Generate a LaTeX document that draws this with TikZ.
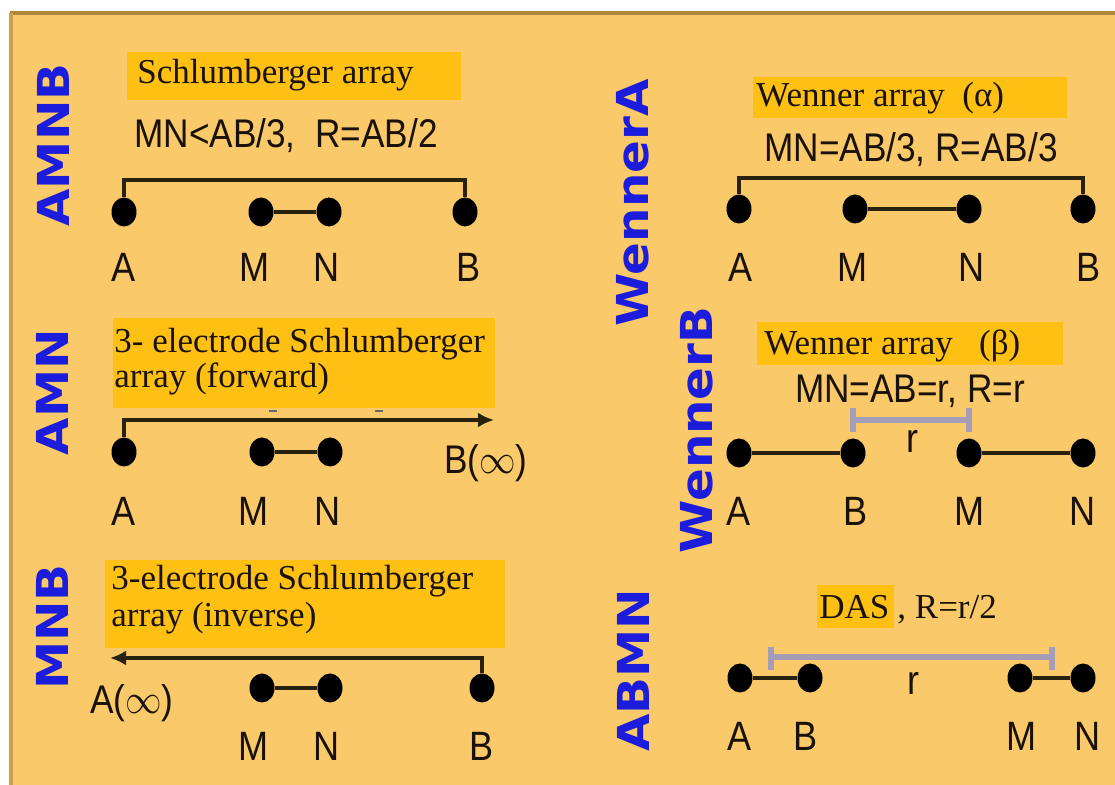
\documentclass[tikz,border=0pt]{standalone}
\usepackage{graphicx}
\usepackage{fontspec}
\setmainfont{Liberation Serif}
\newfontfamily\lsans{Liberation Sans}
\newfontfamily\djv{DejaVu Sans}
\usetikzlibrary{shapes.geometric,arrows.meta}
\definecolor{bgc}{HTML}{F9C96A}
\definecolor{topc}{HTML}{B08838}
\definecolor{leftc}{HTML}{C9A14E}
\definecolor{hlc}{HTML}{FEC012}
\definecolor{bluec}{HTML}{1C1CDC}
\definecolor{barc}{HTML}{A49DB5}
\definecolor{txt}{HTML}{1A1208}
\definecolor{wirec}{HTML}{2A2210}
\newcommand\nx[1]{\scalebox{0.88}[1]{#1}}
\newcommand\vx[1]{\scalebox{1.1}[1]{#1}}
\begin{document}
\begin{tikzpicture}[x=0.5pt,y=-0.5pt,
  dot/.style={ellipse,fill=black,minimum width=12.5pt,minimum height=14.5pt,inner sep=0pt},
  wire/.style={line width=1.6pt,draw=wirec},
  arr/.style={wire,-{Latex[length=8pt,width=7.5pt]}},
  gbar/.style={line width=2.6pt,draw=barc},
  hl/.style={fill=hlc},
  ser/.style={font=\fontsize{17.5pt}{17.5pt}\selectfont,inner sep=0pt,text=txt,anchor=base west},
  lab/.style={font=\lsans\fontsize{20.5pt}{20.5pt}\selectfont,inner sep=0pt,anchor=base,text=txt},
  frm/.style={font=\lsans\fontsize{20pt}{20pt}\selectfont,inner sep=0pt,anchor=base,text=txt},
  vlab/.style={rotate=90,font=\djv\bfseries\fontsize{22pt}{22pt}\selectfont,text=bluec,inner sep=0pt},
  tick/.style={line width=1pt,draw=black!60}
]
\useasboundingbox (0,0) rectangle (1115,785);
\fill[white] (0,0) rectangle (1115,785);
\fill[bgc] (11,13) rectangle (1115,785);
\draw[line width=1.6pt,draw=topc] (10,13) -- (1115,13);
\draw[line width=1.6pt,draw=leftc] (11,13) -- (11,785);

% ---------- Panel 1: Schlumberger ----------
\node[vlab] (v1) at (53,145) {\vx{AMNB}};
\fill[hl] (127,52) rectangle (461,100);
\node[ser] (t1) at (137,84) {Schlumberger array};
\node[frm] (f1) at (286,148) {\nx{MN<AB/3,\ \ R=AB/2}};
\node[dot] (aA) at (124,212) {};
\node[dot] (aM) at (261,212) {};
\node[dot] (aN) at (329,212) {};
\node[dot] (aB) at (465,212) {};
\coordinate (aTop) at (0,180);
\draw[wire] (aA.north) -- (aA |- aTop) -- (aB |- aTop) -- (aB.north);
\draw[wire] (aM) -- (aN);
\node[lab] (laA) at (124,282) {\nx{A}};
\node[lab] (laM) at (255,282) {\nx{M}};
\node[lab] (laN) at (327,282) {\nx{N}};
\node[lab] (laB) at (469,282) {\nx{B}};

% ---------- Panel 2: Wenner alpha ----------
\node[vlab] (v2) at (633,203) {\vx{WennerA}};
\fill[hl] (753,77) rectangle (1067,118);
\node[ser] (t2) at (756,107) {Wenner array\ \ (α)};
\node[frm] (f2) at (911,162) {\nx{MN=AB/3, R=AB/3}};
\node[dot] (bA) at (739,209) {};
\node[dot] (bM) at (855,209) {};
\node[dot] (bN) at (969,209) {};
\node[dot] (bB) at (1083,209) {};
\coordinate (bTop) at (0,178);
\draw[wire] (bA.north) -- (bA |- bTop) -- (bB |- bTop) -- (bB.north);
\draw[wire] (bM) -- (bN);
\node[lab] (lbA) at (741,282) {\nx{A}};
\node[lab] (lbM) at (853,282) {\nx{M}};
\node[lab] (lbN) at (972,282) {\nx{N}};
\node[lab] (lbB) at (1089,282) {\nx{B}};

% ---------- Panel 3: 3-electrode forward ----------
\node[vlab] (v3) at (52,392) {\vx{AMN}};
\fill[hl] (113,318) rectangle (495,408);
\node[ser] (t3a) at (114,353) {3- electrode Schlumberger};
\node[ser] (t3b) at (114,388) {array (forward)};
\draw[tick] (269,411) -- (277,411);
\draw[tick] (375,411) -- (383,411);
\node[dot] (cA) at (124,452) {};
\node[dot] (cM) at (262,452) {};
\node[dot] (cN) at (330,452) {};
\coordinate (cEnd) at (494,420);
\draw[arr] (cA.north) |- (cEnd);
\draw[wire] (cM) -- (cN);
\node[frm] (cB) at (486,474) {\nx{B(\(\infty\))}};
\node[lab] (lcA) at (124,526) {\nx{A}};
\node[lab] (lcM) at (254,526) {\nx{M}};
\node[lab] (lcN) at (328,526) {\nx{N}};

% ---------- Panel 4: Wenner beta ----------
\node[vlab] (v4) at (697,430) {\vx{WennerB}};
\fill[hl] (757,322) rectangle (1063,365);
\node[ser] (t4) at (764,355) {Wenner array\ \ \ (β)};
\node[frm] (f4) at (910,403) {\nx{MN=AB=r, R=r}};
\node[dot] (dA) at (739,453) {};
\node[dot] (dB) at (853,453) {};
\node[dot] (dM) at (969,453) {};
\node[dot] (dN) at (1083,453) {};
\draw[wire] (dA) -- (dB);
\draw[wire] (dM) -- (dN);
\coordinate (dLine) at (0,420);
\coordinate (dUp) at (0,408);
\coordinate (dDn) at (0,432);
\draw[gbar] (dB |- dLine) -- (dM |- dLine);
\draw[gbar] (dB |- dUp) -- (dB |- dDn);
\draw[gbar] (dM |- dUp) -- (dM |- dDn);
\node[lab] (dr) at (913,453) {\nx{r}};
\node[lab] (ldA) at (739,526) {\nx{A}};
\node[lab] (ldB) at (856,526) {\nx{B}};
\node[lab] (ldM) at (970,526) {\nx{M}};
\node[lab] (ldN) at (1083,526) {\nx{N}};

% ---------- Panel 5: 3-electrode inverse ----------
\node[vlab] (v5) at (52,627) {\vx{MNB}};
\fill[hl] (105,560) rectangle (505,648);
\node[ser] (t5a) at (111,590) {3-electrode Schlumberger};
\node[ser] (t5b) at (111,627) {array (inverse)};
\node[dot] (eM) at (262,688) {};
\node[dot] (eN) at (330,688) {};
\node[dot] (eB) at (482,688) {};
\coordinate (eEnd) at (110,658);
\draw[arr] (eB.north) |- (eEnd);
\draw[wire] (eM) -- (eN);
\node[frm] (eA) at (132,714) {\nx{A(\(\infty\))}};
\node[lab] (leM) at (254,761) {\nx{M}};
\node[lab] (leN) at (327,761) {\nx{N}};
\node[lab] (leB) at (482,761) {\nx{B}};

% ---------- Panel 6: DAS ----------
\node[vlab] (v6) at (633,670) {\vx{ABMN}};
\fill[hl] (817,585) rectangle (894,628);
\node[ser] (t6) at (819,619) {DAS};
\node[ser] (t6b) at (897,619) {, R=r/2};
\node[dot] (fA) at (740,678) {};
\node[dot] (fB) at (810,678) {};
\node[dot] (fM) at (1020,678) {};
\node[dot] (fN) at (1083,678) {};
\draw[wire] (fA) -- (fB);
\draw[wire] (fM) -- (fN);
\coordinate (fL) at (771,657);
\coordinate (fR) at (1052,657);
\draw[gbar] (fL) -- (fR);
\draw[gbar] ([yshift=5pt]fL) -- ([yshift=-6.5pt]fL);
\draw[gbar] ([yshift=5pt]fR) -- ([yshift=-6.5pt]fR);
\node[lab] (fr) at (914,695) {\nx{r}};
\node[lab] (lfA) at (740,751) {\nx{A}};
\node[lab] (lfB) at (806,751) {\nx{B}};
\node[lab] (lfM) at (1022,751) {\nx{M}};
\node[lab] (lfN) at (1088,751) {\nx{N}};
\end{tikzpicture}
\end{document}
